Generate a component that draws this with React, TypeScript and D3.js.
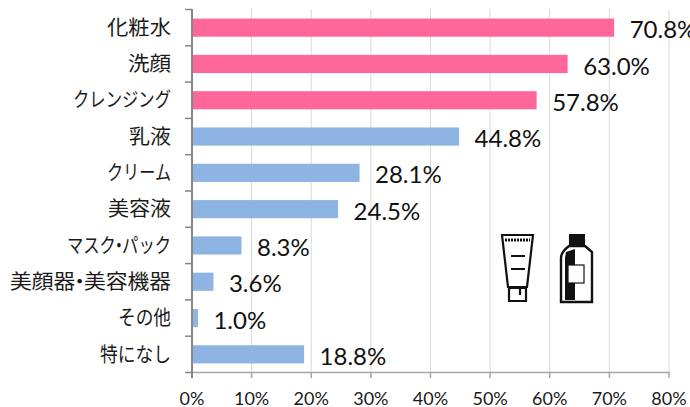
import React from "react";
import * as d3 from "d3";

const categories = ["化粧水", "洗顔", "クレンジング", "乳液", "クリーム", "美容液", "マスク・パック", "美顔器・美容機器", "その他", "特になし"];
const values = [70.8, 63.0, 57.8, 44.8, 28.1, 24.5, 8.3, 3.6, 1.0, 18.8];
const highlighted = ["化粧水", "洗顔", "クレンジング"];
const labelWidths = [64, 43, 98, 42, 64, 63, 104, 161, 53, 71];
const xTicks = [0, 10, 20, 30, 40, 50, 60, 70, 80];

const FONT = "Lato,'Noto Sans CJK JP',sans-serif";
const LABEL_FONT = "'Noto Sans CJK JP',sans-serif";

export default function App() {
  const x = d3.scaleLinear().domain([0, 80]).range([192, 669]);
  const y = d3.scaleBand().domain(categories).range([9.5, 372.5]).paddingInner(0.5).paddingOuter(0.25);
  const step = y.step();
  const edges = categories.map((_, i) => 9.5 + i * step).concat(372.5);
  return (
    <svg width={690} height={407} style={{ position: "fixed", left: 0, top: 0, background: "#fff" }}>
      {xTicks.slice(1).map((t) => (
        <line key={t} x1={x(t)} x2={x(t)} y1={9} y2={373} stroke="#d9d9d9" strokeWidth={1} />
      ))}
      {categories.map((c, i) => (
        <rect key={c} x={x(0)} y={y(c)} width={x(values[i]) - x(0)} height={y.bandwidth()}
          fill={highlighted.includes(c) ? "#ff6699" : "#8db4e2"} />
      ))}
      <line x1={x(0)} x2={669} y1={372.5} y2={372.5} stroke="#a6a6a6" strokeWidth={1.5} />
      {xTicks.map((t) => (
        <line key={t} x1={x(t)} x2={x(t)} y1={372} y2={378} stroke="#a6a6a6" strokeWidth={1.5} />
      ))}
      <line x1={192} x2={192} y1={9} y2={378} stroke="#868686" strokeWidth={2} />
      {edges.map((e, i) => (
        <line key={i} x1={185} x2={192} y1={e} y2={e} stroke="#868686" strokeWidth={1.5} />
      ))}
      {categories.map((c, i) => {
        const parts = c.split("・");
        return (
          <text key={c} x={171 - labelWidths[i]} y={y(c)! + y.bandwidth() / 2} dy="0.36em"
            textLength={labelWidths[i]} lengthAdjust="spacingAndGlyphs"
            fontFamily={LABEL_FONT} fontSize={c.length === 8 ? 20 : 20} fill="#1a1a1a">
            {parts.length === 2 ? (
              <>
                <tspan>{parts[0]}</tspan>
                <tspan dx={-6}>・</tspan>
                <tspan dx={-6}>{parts[1]}</tspan>
              </>
            ) : c}
          </text>
        );
      })}
      {categories.map((c, i) => (
        <text key={c} x={x(values[i]) + 15.5} y={y(c)! + y.bandwidth() / 2 + 2} dy="0.36em"
          fontFamily={FONT} fontSize={24} fill="#111">{values[i].toFixed(1)}%</text>
      ))}
      {xTicks.map((t) => (
        <text key={t} x={x(t)} y={405} textAnchor="middle" fontFamily={FONT} fontSize={18} fill="#1a1a1a">{t}%</text>
      ))}
      <g fill="none" stroke="#111" strokeWidth={2.2}>
        <path d="M502 235H533L527 287H508Z" />
        <path d="M505 240H530" strokeWidth={3} strokeDasharray="2 1" />
        <path d="M511 256H525M511 269H525" />
        <path d="M509 288H526V301H509Z" />
        <path d="M520 288V295" />
      </g>
      <g>
        <rect x={569} y={234} width={16} height={12} fill="#111" />
        <path d="M569 246H585L592 252Q592 252 592 258V302H561V258Q561 252 569 246Z" fill="none" stroke="#111" strokeWidth={2.4} />
        <path d="M566 252Q572 250 575 249V300H565V258Z" fill="#111" />
        <rect x={568} y={265} width={16} height={18} fill="#fff" stroke="#111" strokeWidth={1.2} />
      </g>
    </svg>
  );
}
